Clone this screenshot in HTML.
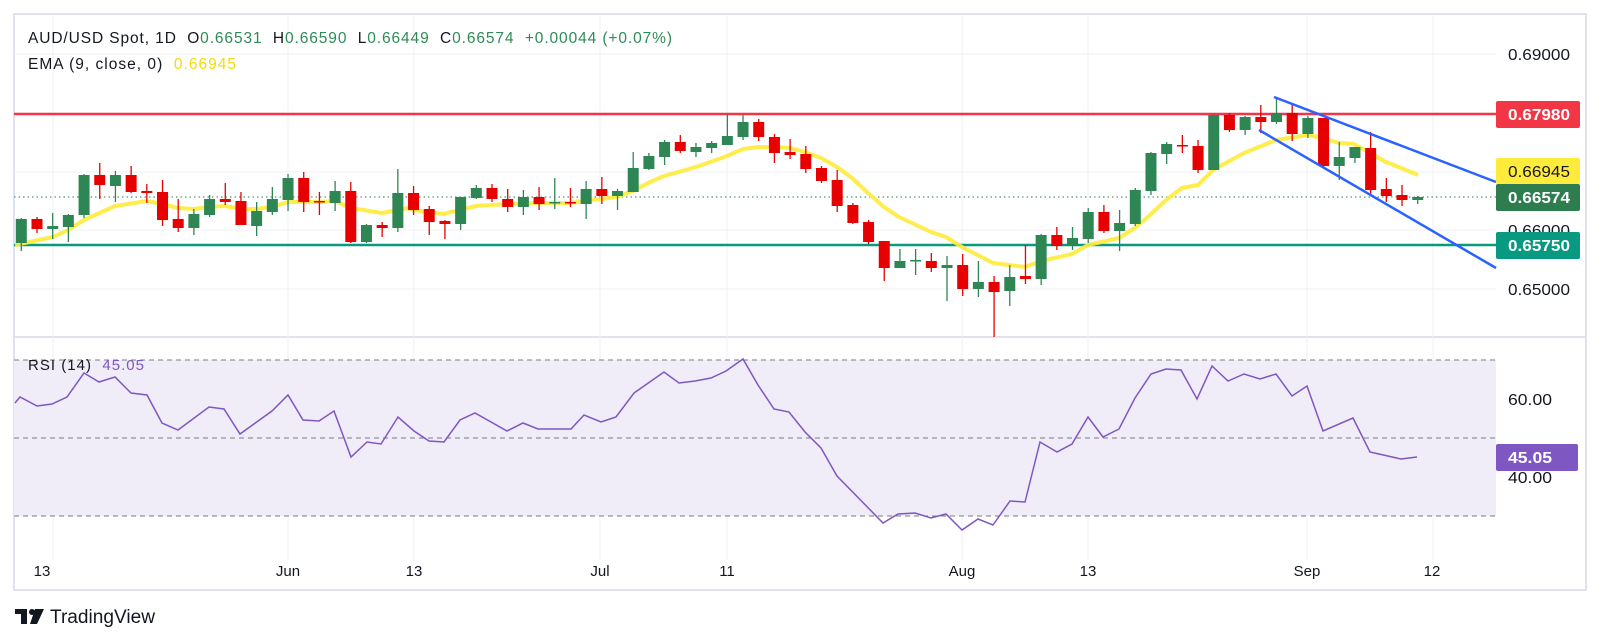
<!DOCTYPE html>
<html><head><meta charset="utf-8"><style>
body{margin:0;background:#fff;width:1601px;height:644px;overflow:hidden;font-family:"Liberation Sans",sans-serif}
svg{position:absolute;left:0;top:0}
</style></head><body>
<svg id="s" width="1601" height="644" xmlns="http://www.w3.org/2000/svg" font-family="Liberation Sans, sans-serif">
<rect x="14" y="14" width="1572" height="576" fill="none" stroke="#e0e3eb" stroke-width="2"/>
<line x1="14" y1="337" x2="1586" y2="337" stroke="#e0e3eb" stroke-width="2"/>
<g stroke="#f0f1f4" stroke-width="1" id="grid"></g>
<rect x="14" y="360" width="1482" height="156" fill="#f0ecf8"/>
<g stroke="#787b86" stroke-dasharray="5,4" stroke-width="1">
<line x1="14" y1="360" x2="1496" y2="360"/><line x1="14" y1="438" x2="1496" y2="438"/><line x1="14" y1="516" x2="1496" y2="516"/>
</g>
<line x1="14" y1="114" x2="1496" y2="114" stroke="#f23645" stroke-width="2.5"/>
<line x1="14" y1="245" x2="1496" y2="245" stroke="#089981" stroke-width="2.5"/>
<line x1="14" y1="197" x2="1496" y2="197" stroke="#2e7d4f" stroke-width="1" stroke-dasharray="1.5,3"/>
<polyline id="ema" fill="none" stroke="#ffeb3b" stroke-width="4" stroke-linejoin="round" opacity="0.9"/>
<g id="cd"></g>
<line x1="1274" y1="97" x2="1496" y2="182" stroke="#2962ff" stroke-width="2.5"/>
<line x1="1259" y1="130" x2="1496" y2="268" stroke="#2962ff" stroke-width="2.5"/>
<polyline id="rsi" fill="none" stroke="#7e57c2" stroke-width="1.5"/>
<g font-size="16" fill="#131722">
<text x="1508" y="60" textLength="62" lengthAdjust="spacingAndGlyphs">0.69000</text>
<text x="1508" y="236" textLength="62" lengthAdjust="spacingAndGlyphs">0.66000</text>
<text x="1508" y="295" textLength="62" lengthAdjust="spacingAndGlyphs">0.65000</text>
<text x="1508" y="405" textLength="44" lengthAdjust="spacingAndGlyphs">60.00</text>
<text x="1508" y="483" textLength="44" lengthAdjust="spacingAndGlyphs">40.00</text>
</g>
<rect x="1496" y="101" width="84" height="27" rx="2" fill="#f23645"/><text x="1508" y="120" font-size="16" fill="#fff" font-weight="bold" textLength="62" lengthAdjust="spacingAndGlyphs">0.67980</text>
<rect x="1496" y="158" width="84" height="26" rx="2" fill="#ffeb3b"/><text x="1508" y="177" font-size="16" fill="#131722" textLength="62" lengthAdjust="spacingAndGlyphs">0.66945</text>
<rect x="1496" y="184" width="84" height="27" rx="2" fill="#2e7d4f"/><text x="1508" y="203" font-size="16" fill="#fff" font-weight="bold" textLength="62" lengthAdjust="spacingAndGlyphs">0.66574</text>
<rect x="1496" y="232" width="84" height="27" rx="2" fill="#089981"/><text x="1508" y="251" font-size="16" fill="#fff" font-weight="bold" textLength="62" lengthAdjust="spacingAndGlyphs">0.65750</text>
<rect x="1496" y="444" width="82" height="27" rx="2" fill="#7e57c2"/><text x="1508" y="463" font-size="16" fill="#fff" font-weight="bold" textLength="44" lengthAdjust="spacingAndGlyphs">45.05</text>
<g font-size="15" fill="#131722" text-anchor="middle">
<text x="42" y="576">13</text><text x="288" y="576">Jun</text><text x="414" y="576">13</text><text x="600" y="576">Jul</text><text x="727" y="576">11</text><text x="962" y="576">Aug</text><text x="1088" y="576">13</text><text x="1307" y="576">Sep</text><text x="1432" y="576">12</text>
</g>
<text x="28" y="43" font-size="15.5" fill="#131722" textLength="644" lengthAdjust="spacing">AUD/USD Spot, 1D&#160;&#160;O<tspan fill="#2e8b57">0.66531</tspan>&#160;&#160;H<tspan fill="#2e8b57">0.66590</tspan>&#160;&#160;L<tspan fill="#2e8b57">0.66449</tspan>&#160;&#160;C<tspan fill="#2e8b57">0.66574</tspan>&#160;&#160;<tspan fill="#2e8b57">+0.00044 (+0.07%)</tspan></text>
<text x="28" y="69" font-size="15.5" fill="#131722" textLength="208" lengthAdjust="spacing">EMA (9, close, 0)&#160;&#160;<tspan fill="#f5d90a">0.66945</tspan></text>
<text x="28" y="370" font-size="15" fill="#131722" textLength="116" lengthAdjust="spacing">RSI (14)&#160;&#160;<tspan fill="#7e57c2">45.05</tspan></text>
<g fill="#131722"><rect x="15" y="609" width="12" height="5"/><rect x="21" y="609" width="6" height="15"/><circle cx="32" cy="612" r="3"/><polygon points="35,609 44,609 37,624 30,624"/></g>
<text x="50" y="623" font-size="19" fill="#131722" textLength="105" lengthAdjust="spacingAndGlyphs">TradingView</text>
</svg>
<script>
var ns="http://www.w3.org/2000/svg";
function el(t,a,p){var e=document.createElementNS(ns,t);for(var k in a)e.setAttribute(k,a[k]);p.appendChild(e);return e;}
var g=document.getElementById('grid');
[54,113,172,230,289,399,477].forEach(function(y){el('line',{x1:14,y1:y,x2:1496,y2:y},g);});
[53,288,414,600,727,962,1088,1307,1433].forEach(function(x){el('line',{x1:x,y1:14,x2:x,y2:560},g);});
var C=[
"g219,243,218,251","r219,229,217,233","g226,229,213,239","g215,227,214,242","g175,215,174,218","r175,185,163,199","g175,186,171,202","r175,192,166,193","r191,193,184,203","r192,220,180,226",
"r219,228,199,232","g214,228,209,235","g199,215,195,217","r199,202,183,205","r201,225,192,225","g211,226,202,236","g199,212,187,215","g178,200,174,211","r178,202,172,212","r201,202,192,215",
"g191,203,181,211","r191,242,182,243","g225,242,224,243","r225,228,222,237","g193,228,169,232","r193,210,186,215","r209,222,206,235","r221,224,220,239","g197,224,197,230","g188,198,185,199",
"r188,199,184,202","r199,207,189,212","g197,207,190,215","r197,204,187,210","g202,203,178,209","r202,203,188,207","g189,204,181,219","r189,196,177,204","g191,196,189,210","g168,192,152,192",
"g156,169,153,170","g142,157,140,165","r142,151,135,153","g147,152,143,157","g143,148,141,153","g136,145,113,145","g122,137,115,140","r122,137,119,141","r137,153,134,163","r152,155,139,159",
"r154,169,146,173","r168,181,166,183","r180,206,170,212","r205,223,203,224","r222,242,220,244","r241,268,241,281","g261,268,249,268","g260,261,249,275","r261,268,253,272","g265,268,256,301",
"r265,289,254,296","g282,289,261,297","r282,292,276,337","g277,291,265,306","r276,279,245,284","g235,279,234,285","r235,246,227,250","g238,246,227,250","g212,239,208,243","r212,231,205,233",
"g223,231,210,251","g190,224,188,226","g153,191,152,195","g144,154,142,164","r145,146,135,153","r146,170,140,173","g115,170,114,170","r115,130,113,132","g117,130,116,135","r117,122,105,133",
"g113,122,97,124","r113,134,103,141","g118,134,116,138","r118,166,118,167","g157,166,142,180","g147,158,147,163","r148,190,132,195","r189,196,178,202","r195,200,185,206","g197,200,196,204"];
var cd=document.getElementById('cd');
C.forEach(function(s,i){var col=s[0]=='g'?'#2e8655':'#e60000';var v=s.slice(1).split(',').map(Number);var x=21.3+i*15.69;
el('line',{x1:x,y1:v[2],x2:x,y2:v[3],stroke:col,'stroke-width':1.3},cd);
el('rect',{x:x-5.5,y:v[0],width:11,height:Math.max(v[1]-v[0],1.5),fill:col},cd);});
document.getElementById('ema').setAttribute('points',"15,245 53,237 68,230 84,220 115,206 147,201 162,204 178,208 194,209 209,207 225,206 241,209 256,209 272,207 288,202 319,202 335,201 351,208 382,213 408,208 413,210 443,214 476,206 507,204 539,203 570,203 601,199 617,197 633,191 648,183 664,176 696,167 727,156 743,149 758,147 774,147 790,148 805,152 821,158 837,167 852,178 868,193 884,207 899,217 931,232 946,237 962,247 993,263 1025,267 1041,261 1072,254 1088,245 1119,238 1135,228 1150,215 1166,200 1182,188 1198,185 1213,170 1244,153 1276,140 1308,135 1323,138 1339,143 1354,144 1370,153 1386,162 1401,168 1418,175");
document.getElementById('rsi').setAttribute('points',"15,403 20,397 37,406 52,404 67,397 84,373 99,382 115,377 131,393 147,395 162,423 178,430 209,407 224,409 240,434 272,411 288,395 303,420 319,421 334,411 351,457 367,442 381,444 398,417 414,431 429,441 444,442 460,420 475,413 507,431 523,423 538,429 571,429 584,415 601,422 616,417 634,393 664,372 679,383 695,381 711,378 726,371 743,359 758,385 774,409 789,412 805,432 821,448 837,476 883,523 898,514 915,513 931,518 946,514 962,530 978,519 993,525 1010,501 1025,502 1040,442 1057,452 1072,444 1088,417 1103,437 1119,429 1135,398 1151,374 1166,369 1181,370 1197,399 1212,366 1228,381 1244,374 1260,379 1276,374 1292,396 1307,386 1323,431 1353,418 1370,452 1401,459 1417,457");
</script>
</body></html>
